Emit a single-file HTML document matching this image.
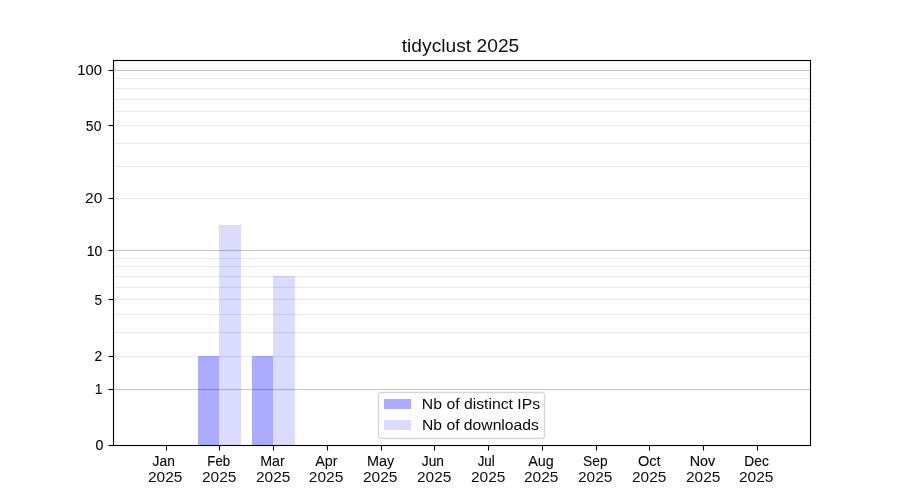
<!DOCTYPE html>
<html><head><meta charset="utf-8"><style>
html,body{margin:0;padding:0;background:#fff;width:900px;height:500px;overflow:hidden}
svg{display:block}
text{font-family:"Liberation Sans",sans-serif}
</style></head><body>
<svg width="900" height="500" viewBox="0 0 900 500">
<rect width="900" height="500" fill="#fff"/>
<g shape-rendering="crispEdges">
<rect x="113" y="77" width="697" height="3" fill="#fdfdfd"/>
<rect x="113" y="87" width="697" height="3" fill="#fdfdfd"/>
<rect x="113" y="98" width="697" height="3" fill="#fdfdfd"/>
<rect x="113" y="110" width="697" height="3" fill="#fdfdfd"/>
<rect x="113" y="124" width="697" height="3" fill="#fdfdfd"/>
<rect x="113" y="142" width="697" height="3" fill="#fdfdfd"/>
<rect x="113" y="165" width="697" height="3" fill="#fdfdfd"/>
<rect x="113" y="197" width="697" height="3" fill="#fdfdfd"/>
<rect x="113" y="257" width="697" height="3" fill="#fdfdfd"/>
<rect x="113" y="265" width="697" height="3" fill="#fdfdfd"/>
<rect x="113" y="275" width="697" height="3" fill="#fdfdfd"/>
<rect x="113" y="286" width="697" height="3" fill="#fdfdfd"/>
<rect x="113" y="298" width="697" height="3" fill="#fdfdfd"/>
<rect x="113" y="313" width="697" height="3" fill="#fdfdfd"/>
<rect x="113" y="331" width="697" height="3" fill="#fdfdfd"/>
<rect x="113" y="355" width="697" height="3" fill="#fdfdfd"/>
<rect x="113" y="78" width="697" height="1" fill="#ebebeb"/>
<rect x="113" y="88" width="697" height="1" fill="#ebebeb"/>
<rect x="113" y="99" width="697" height="1" fill="#ebebeb"/>
<rect x="113" y="111" width="697" height="1" fill="#ebebeb"/>
<rect x="113" y="125" width="697" height="1" fill="#ebebeb"/>
<rect x="113" y="143" width="697" height="1" fill="#ebebeb"/>
<rect x="113" y="166" width="697" height="1" fill="#ebebeb"/>
<rect x="113" y="198" width="697" height="1" fill="#ebebeb"/>
<rect x="113" y="258" width="697" height="1" fill="#ebebeb"/>
<rect x="113" y="266" width="697" height="1" fill="#ebebeb"/>
<rect x="113" y="276" width="697" height="1" fill="#ebebeb"/>
<rect x="113" y="287" width="697" height="1" fill="#ebebeb"/>
<rect x="113" y="299" width="697" height="1" fill="#ebebeb"/>
<rect x="113" y="314" width="697" height="1" fill="#ebebeb"/>
<rect x="113" y="332" width="697" height="1" fill="#ebebeb"/>
<rect x="113" y="356" width="697" height="1" fill="#ebebeb"/>
<rect x="113" y="69" width="697" height="3" fill="#fbfbfb"/>
<rect x="113" y="70" width="697" height="1" fill="#c8c8c8"/>
<rect x="113" y="249" width="697" height="3" fill="#fbfbfb"/>
<rect x="113" y="250" width="697" height="1" fill="#c8c8c8"/>
<rect x="113" y="388" width="697" height="3" fill="#fbfbfb"/>
<rect x="113" y="389" width="697" height="1" fill="#c8c8c8"/>
<rect x="198" y="356" width="21" height="89" fill="rgba(0,0,255,0.33)"/>
<rect x="219" y="225" width="22" height="220" fill="rgba(0,0,255,0.14)"/>
<rect x="252" y="356" width="21" height="89" fill="rgba(0,0,255,0.33)"/>
<rect x="273" y="276" width="22" height="169" fill="rgba(0,0,255,0.14)"/>
<rect x="112" y="60" width="1" height="386" fill="rgba(0,0,0,0.055)"/>
<rect x="114" y="61" width="1" height="384" fill="rgba(0,0,0,0.055)"/>
<rect x="809" y="61" width="1" height="384" fill="rgba(0,0,0,0.055)"/>
<rect x="811" y="60" width="1" height="386" fill="rgba(0,0,0,0.055)"/>
<rect x="113" y="59" width="698" height="1" fill="rgba(0,0,0,0.055)"/>
<rect x="115" y="61" width="694" height="1" fill="rgba(0,0,0,0.055)"/>
<rect x="115" y="444" width="694" height="1" fill="rgba(0,0,0,0.055)"/>
<rect x="113" y="446" width="698" height="1" fill="rgba(0,0,0,0.055)"/>
<rect x="113" y="60" width="1" height="386" fill="#000"/>
<rect x="810" y="60" width="1" height="386" fill="#000"/>
<rect x="113" y="60" width="698" height="1" fill="#000"/>
<rect x="113" y="445" width="698" height="1" fill="#000"/>
<rect x="109" y="445" width="4" height="1" fill="#000"/>
<rect x="108" y="445" width="1" height="1" fill="#7f7f7f"/>
<rect x="109" y="444" width="4" height="1" fill="rgba(0,0,0,0.055)"/>
<rect x="109" y="446" width="4" height="1" fill="rgba(0,0,0,0.055)"/>
<rect x="109" y="389" width="4" height="1" fill="#000"/>
<rect x="108" y="389" width="1" height="1" fill="#7f7f7f"/>
<rect x="109" y="388" width="4" height="1" fill="rgba(0,0,0,0.055)"/>
<rect x="109" y="390" width="4" height="1" fill="rgba(0,0,0,0.055)"/>
<rect x="109" y="356" width="4" height="1" fill="#000"/>
<rect x="108" y="356" width="1" height="1" fill="#7f7f7f"/>
<rect x="109" y="355" width="4" height="1" fill="rgba(0,0,0,0.055)"/>
<rect x="109" y="357" width="4" height="1" fill="rgba(0,0,0,0.055)"/>
<rect x="109" y="299" width="4" height="1" fill="#000"/>
<rect x="108" y="299" width="1" height="1" fill="#7f7f7f"/>
<rect x="109" y="298" width="4" height="1" fill="rgba(0,0,0,0.055)"/>
<rect x="109" y="300" width="4" height="1" fill="rgba(0,0,0,0.055)"/>
<rect x="109" y="250" width="4" height="1" fill="#000"/>
<rect x="108" y="250" width="1" height="1" fill="#7f7f7f"/>
<rect x="109" y="249" width="4" height="1" fill="rgba(0,0,0,0.055)"/>
<rect x="109" y="251" width="4" height="1" fill="rgba(0,0,0,0.055)"/>
<rect x="109" y="198" width="4" height="1" fill="#000"/>
<rect x="108" y="198" width="1" height="1" fill="#7f7f7f"/>
<rect x="109" y="197" width="4" height="1" fill="rgba(0,0,0,0.055)"/>
<rect x="109" y="199" width="4" height="1" fill="rgba(0,0,0,0.055)"/>
<rect x="109" y="125" width="4" height="1" fill="#000"/>
<rect x="108" y="125" width="1" height="1" fill="#7f7f7f"/>
<rect x="109" y="124" width="4" height="1" fill="rgba(0,0,0,0.055)"/>
<rect x="109" y="126" width="4" height="1" fill="rgba(0,0,0,0.055)"/>
<rect x="109" y="70" width="4" height="1" fill="#000"/>
<rect x="108" y="70" width="1" height="1" fill="#7f7f7f"/>
<rect x="109" y="69" width="4" height="1" fill="rgba(0,0,0,0.055)"/>
<rect x="109" y="71" width="4" height="1" fill="rgba(0,0,0,0.055)"/>
<rect x="166" y="446" width="1" height="4" fill="#000"/>
<rect x="166" y="450" width="1" height="1" fill="#7f7f7f"/>
<rect x="165" y="447" width="1" height="3" fill="rgba(0,0,0,0.055)"/>
<rect x="167" y="447" width="1" height="3" fill="rgba(0,0,0,0.055)"/>
<rect x="219" y="446" width="1" height="4" fill="#000"/>
<rect x="219" y="450" width="1" height="1" fill="#7f7f7f"/>
<rect x="218" y="447" width="1" height="3" fill="rgba(0,0,0,0.055)"/>
<rect x="220" y="447" width="1" height="3" fill="rgba(0,0,0,0.055)"/>
<rect x="273" y="446" width="1" height="4" fill="#000"/>
<rect x="273" y="450" width="1" height="1" fill="#7f7f7f"/>
<rect x="272" y="447" width="1" height="3" fill="rgba(0,0,0,0.055)"/>
<rect x="274" y="447" width="1" height="3" fill="rgba(0,0,0,0.055)"/>
<rect x="327" y="446" width="1" height="4" fill="#000"/>
<rect x="327" y="450" width="1" height="1" fill="#7f7f7f"/>
<rect x="326" y="447" width="1" height="3" fill="rgba(0,0,0,0.055)"/>
<rect x="328" y="447" width="1" height="3" fill="rgba(0,0,0,0.055)"/>
<rect x="381" y="446" width="1" height="4" fill="#000"/>
<rect x="381" y="450" width="1" height="1" fill="#7f7f7f"/>
<rect x="380" y="447" width="1" height="3" fill="rgba(0,0,0,0.055)"/>
<rect x="382" y="447" width="1" height="3" fill="rgba(0,0,0,0.055)"/>
<rect x="434" y="446" width="1" height="4" fill="#000"/>
<rect x="434" y="450" width="1" height="1" fill="#7f7f7f"/>
<rect x="433" y="447" width="1" height="3" fill="rgba(0,0,0,0.055)"/>
<rect x="435" y="447" width="1" height="3" fill="rgba(0,0,0,0.055)"/>
<rect x="488" y="446" width="1" height="4" fill="#000"/>
<rect x="488" y="450" width="1" height="1" fill="#7f7f7f"/>
<rect x="487" y="447" width="1" height="3" fill="rgba(0,0,0,0.055)"/>
<rect x="489" y="447" width="1" height="3" fill="rgba(0,0,0,0.055)"/>
<rect x="542" y="446" width="1" height="4" fill="#000"/>
<rect x="542" y="450" width="1" height="1" fill="#7f7f7f"/>
<rect x="541" y="447" width="1" height="3" fill="rgba(0,0,0,0.055)"/>
<rect x="543" y="447" width="1" height="3" fill="rgba(0,0,0,0.055)"/>
<rect x="596" y="446" width="1" height="4" fill="#000"/>
<rect x="596" y="450" width="1" height="1" fill="#7f7f7f"/>
<rect x="595" y="447" width="1" height="3" fill="rgba(0,0,0,0.055)"/>
<rect x="597" y="447" width="1" height="3" fill="rgba(0,0,0,0.055)"/>
<rect x="649" y="446" width="1" height="4" fill="#000"/>
<rect x="649" y="450" width="1" height="1" fill="#7f7f7f"/>
<rect x="648" y="447" width="1" height="3" fill="rgba(0,0,0,0.055)"/>
<rect x="650" y="447" width="1" height="3" fill="rgba(0,0,0,0.055)"/>
<rect x="703" y="446" width="1" height="4" fill="#000"/>
<rect x="703" y="450" width="1" height="1" fill="#7f7f7f"/>
<rect x="702" y="447" width="1" height="3" fill="rgba(0,0,0,0.055)"/>
<rect x="704" y="447" width="1" height="3" fill="rgba(0,0,0,0.055)"/>
<rect x="757" y="446" width="1" height="4" fill="#000"/>
<rect x="757" y="450" width="1" height="1" fill="#7f7f7f"/>
<rect x="756" y="447" width="1" height="3" fill="rgba(0,0,0,0.055)"/>
<rect x="758" y="447" width="1" height="3" fill="rgba(0,0,0,0.055)"/>
<rect x="378.5" y="392.5" width="166" height="46" rx="2.2" fill="#fff" stroke="#f7f7f7" stroke-width="3" shape-rendering="auto"/>
<rect x="378.5" y="392.5" width="166" height="46" rx="2.2" fill="none" stroke="#d6d6d6" stroke-width="1" shape-rendering="auto"/>
<rect x="384" y="399" width="27" height="10" fill="rgba(0,0,255,0.33)"/>
<rect x="384" y="420" width="27" height="10" fill="rgba(0,0,255,0.14)"/>
</g>
<g style="filter:grayscale(1)">
<text transform="translate(103.52,450.37) scale(1.0124,1)" text-anchor="end" font-size="14.1" stroke="rgb(0,0,0)" stroke-width="0.160">0</text>
<text transform="translate(102.37,394.00) scale(0.9821,1)" text-anchor="end" font-size="14.1" stroke="rgb(0,0,0)" stroke-width="0.056">1</text>
<text transform="translate(102.02,361.28) scale(0.9751,1)" text-anchor="end" font-size="14.1" stroke="rgb(0,0,0)" stroke-width="0.091">2</text>
<text transform="translate(102.09,304.52) scale(0.9663,1)" text-anchor="end" font-size="14.1" stroke="rgb(0,0,0)" stroke-width="0.010">5</text>
<text transform="translate(102.33,255.78) scale(0.9909,1)" text-anchor="end" font-size="14.1" stroke="rgb(0,0,0)" stroke-width="0.119">10</text>
<text transform="translate(102.34,203.45) scale(1.1004,1)" text-anchor="end" font-size="14.1" fill="rgb(7,7,7)">20</text>
<text transform="translate(101.39,130.94) scale(0.9900,1)" text-anchor="end" font-size="14.1" stroke="rgb(0,0,0)" stroke-width="0.056">50</text>
<text transform="translate(102.02,74.70) scale(1.0485,1)" text-anchor="end" font-size="14.1" stroke="rgb(0,0,0)" stroke-width="0.050">100</text>
<text transform="translate(163.73,465.85) scale(0.9779,1)" text-anchor="middle" font-size="14.1" stroke="rgb(0,0,0)" stroke-width="0.089">Jan</text>
<text transform="translate(165.15,481.97) scale(1.1001,1)" text-anchor="middle" font-size="14.1" fill="rgb(14,14,14)">2025</text>
<text transform="translate(218.68,465.85) scale(0.9323,1)" text-anchor="middle" font-size="14.1" stroke="rgb(0,0,0)" stroke-width="0.149">Feb</text>
<text transform="translate(219.16,482.00) scale(1.0994,1)" text-anchor="middle" font-size="14.1" fill="rgb(15,15,15)">2025</text>
<text transform="translate(272.42,465.85) scale(1.0120,1)" text-anchor="middle" font-size="14.1" stroke="rgb(0,0,0)" stroke-width="0.053">Mar</text>
<text transform="translate(273.20,481.99) scale(1.0974,1)" text-anchor="middle" font-size="14.1" fill="rgb(14,14,14)">2025</text>
<text transform="translate(326.35,465.85) scale(1.0216,1)" text-anchor="middle" font-size="14.1" stroke="rgb(0,0,0)" stroke-width="0.043">Apr</text>
<text transform="translate(326.09,481.97) scale(1.1018,1)" text-anchor="middle" font-size="14.1" fill="rgb(15,15,15)">2025</text>
<text transform="translate(380.53,465.85) scale(1.0217,1)" text-anchor="middle" font-size="14.1" stroke="rgb(0,0,0)" stroke-width="0.057">May</text>
<text transform="translate(380.13,481.98) scale(1.1001,1)" text-anchor="middle" font-size="14.1" fill="rgb(14,14,14)">2025</text>
<text transform="translate(432.88,465.85) scale(0.9764,1)" text-anchor="middle" font-size="14.1" stroke="rgb(0,0,0)" stroke-width="0.112">Jun</text>
<text transform="translate(434.20,481.97) scale(1.0959,1)" text-anchor="middle" font-size="14.1" fill="rgb(15,15,15)">2025</text>
<text transform="translate(486.21,465.85) scale(0.9451,1)" text-anchor="middle" font-size="14.1" stroke="rgb(0,0,0)" stroke-width="0.128">Jul</text>
<text transform="translate(488.20,481.97) scale(1.0958,1)" text-anchor="middle" font-size="14.1" fill="rgb(15,15,15)">2025</text>
<text transform="translate(540.93,465.85) scale(1.0171,1)" text-anchor="middle" font-size="14.1" stroke="rgb(0,0,0)" stroke-width="0.041">Aug</text>
<text transform="translate(541.17,481.97) scale(1.0996,1)" text-anchor="middle" font-size="14.1" fill="rgb(15,15,15)">2025</text>
<text transform="translate(595.37,465.85) scale(0.9770,1)" text-anchor="middle" font-size="14.1" stroke="rgb(0,0,0)" stroke-width="0.082">Sep</text>
<text transform="translate(595.16,481.99) scale(1.0959,1)" text-anchor="middle" font-size="14.1" fill="rgb(15,15,15)">2025</text>
<text transform="translate(649.32,465.85) scale(1.0361,1)" text-anchor="middle" font-size="14.1" stroke="rgb(0,0,0)" stroke-width="0.034">Oct</text>
<text transform="translate(649.14,481.98) scale(1.0973,1)" text-anchor="middle" font-size="14.1" fill="rgb(15,15,15)">2025</text>
<text transform="translate(702.39,465.85) scale(1.0181,1)" text-anchor="middle" font-size="14.1" stroke="rgb(0,0,0)" stroke-width="0.117">Nov</text>
<text transform="translate(703.18,481.98) scale(1.0951,1)" text-anchor="middle" font-size="14.1" fill="rgb(15,15,15)">2025</text>
<text transform="translate(756.61,465.85) scale(0.9783,1)" text-anchor="middle" font-size="14.1" stroke="rgb(0,0,0)" stroke-width="0.127">Dec</text>
<text transform="translate(756.17,481.99) scale(1.1001,1)" text-anchor="middle" font-size="14.1" fill="rgb(13,13,13)">2025</text>
<text transform="translate(460.51,51.80) scale(1.0927,1)" text-anchor="middle" font-size="17.6" fill="rgb(16,16,16)">tidyclust 2025</text>
<text transform="translate(421.87,409.02) scale(1.1185,1)" text-anchor="start" font-size="14.1" fill="rgb(8,8,8)">Nb of distinct IPs</text>
<text transform="translate(422.00,430.12) scale(1.1139,1)" text-anchor="start" font-size="14.1" fill="rgb(6,6,6)">Nb of downloads</text>
</g>
</svg>
</body></html>
